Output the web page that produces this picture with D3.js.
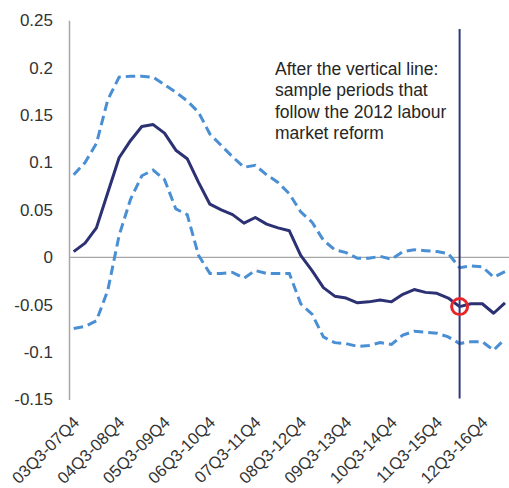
<!DOCTYPE html>
<html>
<head>
<meta charset="utf-8">
<script src="https://cdn.jsdelivr.net/npm/d3@7"></script>
<style>
  html, body { margin: 0; padding: 0; background: #fff; }
  svg { display: block; }
  text { font-family: "Liberation Sans", Arial, sans-serif; }
</style>
</head>
<body>
<svg id="chart" width="509" height="488"></svg>
<script>
const categories = [
  "03Q3-07Q4","03Q4-08Q1","04Q1-08Q2","04Q2-08Q3","04Q3-08Q4","04Q4-09Q1","05Q1-09Q2","05Q2-09Q3",
  "05Q3-09Q4","05Q4-10Q1","06Q1-10Q2","06Q2-10Q3","06Q3-10Q4","06Q4-11Q1","07Q1-11Q2","07Q2-11Q3",
  "07Q3-11Q4","07Q4-12Q1","08Q1-12Q2","08Q2-12Q3","08Q3-12Q4","08Q4-13Q1","09Q1-13Q2","09Q2-13Q3",
  "09Q3-13Q4","09Q4-14Q1","10Q1-14Q2","10Q2-14Q3","10Q3-14Q4","10Q4-15Q1","11Q1-15Q2","11Q2-15Q3",
  "11Q3-15Q4","11Q4-16Q1","12Q1-16Q2","12Q2-16Q3","12Q3-16Q4","12Q4-17Q1","13Q1-17Q2"
];
const estimate = [
  0.006, 0.015, 0.031, 0.068, 0.105, 0.123, 0.138, 0.140, 0.131, 0.113, 0.104, 0.079, 0.056,
  0.050, 0.045, 0.036, 0.042, 0.035, 0.031, 0.028, 0.002, -0.014, -0.032, -0.041, -0.043, -0.048,
  -0.047, -0.045, -0.047, -0.039, -0.034, -0.037, -0.038, -0.043, -0.052, -0.049, -0.049, -0.059, -0.048
];
const upperBound = [
  0.087, 0.100, 0.120, 0.166, 0.190, 0.191, 0.191, 0.190, 0.182, 0.174, 0.165, 0.153, 0.130,
  0.118, 0.106, 0.095, 0.097, 0.087, 0.079, 0.067, 0.048, 0.037, 0.018, 0.008, 0.005, -0.001,
  -0.001, 0.001, -0.002, 0.006, 0.008, 0.007, 0.006, 0.004, -0.011, -0.009, -0.010, -0.021, -0.015
];
const lowerBound = [
  -0.075, -0.073, -0.067, -0.035, 0.023, 0.061, 0.086, 0.092, 0.082, 0.051, 0.045, 0.002, -0.017,
  -0.017, -0.016, -0.022, -0.014, -0.017, -0.017, -0.017, -0.049, -0.060, -0.084, -0.090, -0.091, -0.094,
  -0.093, -0.090, -0.092, -0.082, -0.078, -0.079, -0.080, -0.084, -0.091, -0.089, -0.089, -0.098, -0.086
];
const yTickValues = [0.25, 0.2, 0.15, 0.1, 0.05, 0, -0.05, -0.1, -0.15];
const yTickLabels = ["0.25", "0.2", "0.15", "0.1", "0.05", "0", "-0.05", "-0.1", "-0.15"];
const xTickLabels = ["03Q3-07Q4","04Q3-08Q4","05Q3-09Q4","06Q3-10Q4","07Q3-11Q4",
                     "08Q3-12Q4","09Q3-13Q4","10Q3-14Q4","11Q3-15Q4","12Q3-16Q4"];
const reformCategory = "12Q1-16Q2";
const annotationLines = ["After the vertical line:", "sample periods that", "follow the 2012 labour", "market reform"];

const svg = d3.select("#chart");
const axisX0 = 69;
const x = d3.scalePoint().domain(categories).range([73.7, 505]);
const y = d3.scaleLinear().domain([-0.15, 0.25]).range([399.5, 20.3]);

// zero line
svg.append("line")
  .attr("x1", axisX0).attr("x2", 509)
  .attr("y1", y(0)).attr("y2", y(0))
  .attr("stroke", "#a6a6a6").attr("stroke-width", 1.3);

// y axis
const yAxis = d3.axisLeft(y).tickValues(yTickValues)
  .tickFormat((d, i) => yTickLabels[i]).tickSize(0).tickPadding(16);
const gy = svg.append("g").attr("transform", `translate(${axisX0},0)`).call(yAxis);
gy.select(".domain").attr("stroke", "#a6a6a6").attr("stroke-width", 1.5);
gy.selectAll("text").attr("font-size", 17).attr("fill", "#333").attr("font-family", "Liberation Sans, Arial, sans-serif");

// x axis labels
const xAxis = d3.axisBottom(x).tickValues(xTickLabels).tickSize(0).tickPadding(0);
const gx = svg.append("g").attr("transform", `translate(0,${y(-0.15)})`).call(xAxis);
gx.select(".domain").remove();
gx.selectAll("text")
  .attr("font-size", 16.6).attr("fill", "#333").attr("font-family", "Liberation Sans, Arial, sans-serif")
  .attr("text-anchor", "end")
  .attr("dy", null)
  .attr("transform", "translate(6,24) rotate(-45)");

// lines
const line = d3.line().x((d, i) => x(categories[i])).y(d => y(d));
svg.append("path").datum(upperBound).attr("d", line)
  .attr("fill", "none").attr("stroke", "#4a8fd4").attr("stroke-width", 3).attr("stroke-dasharray", "9.5,5");
svg.append("path").datum(lowerBound).attr("d", line)
  .attr("fill", "none").attr("stroke", "#4a8fd4").attr("stroke-width", 3).attr("stroke-dasharray", "9.5,5");
svg.append("path").datum(estimate).attr("d", line)
  .attr("fill", "none").attr("stroke", "#2b3173").attr("stroke-width", 3).attr("stroke-linejoin", "round");

// vertical line
svg.append("line")
  .attr("x1", x(reformCategory)).attr("x2", x(reformCategory))
  .attr("y1", 29).attr("y2", 398.5)
  .attr("stroke", "#2f3878").attr("stroke-width", 2);

// red circle
const ri = categories.indexOf(reformCategory);
svg.append("circle")
  .attr("cx", x(reformCategory)).attr("cy", y(estimate[ri]))
  .attr("r", 8).attr("fill", "none").attr("stroke", "#e8262a").attr("stroke-width", 3);

// annotation
const ann = svg.append("text").attr("x", 275).attr("y", 75)
  .attr("font-size", 17.5).attr("fill", "#262626");
annotationLines.forEach((t, i) => {
  ann.append("tspan").attr("x", 275).attr("y", 75 + i * 21.3).text(t);
});
</script>
</body>
</html>
